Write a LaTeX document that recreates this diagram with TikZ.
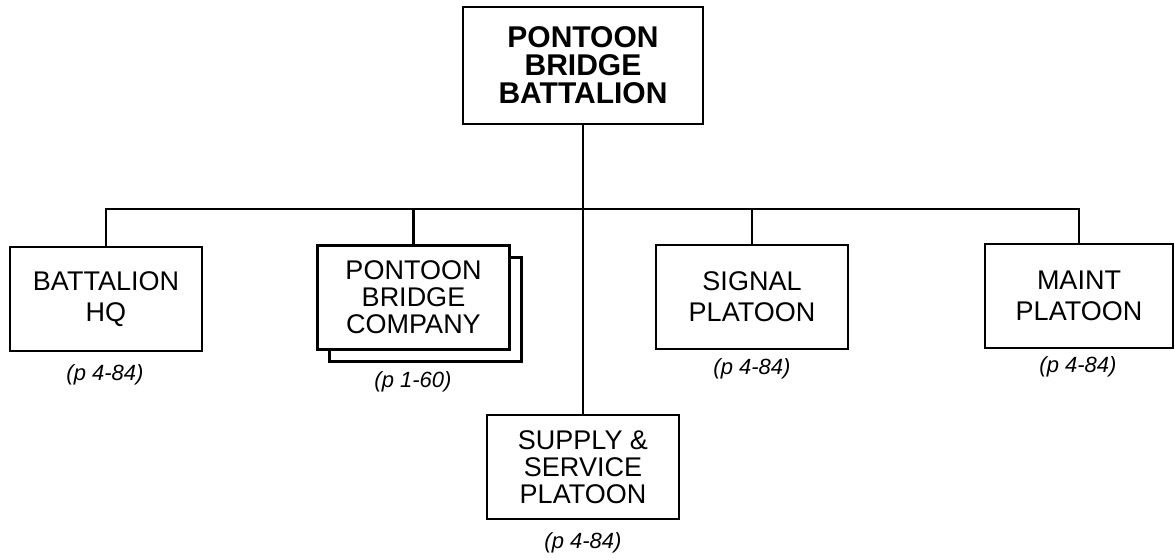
\documentclass[tikz,border=0pt]{standalone}
\usepackage{fontspec}
\setmainfont{Liberation Sans}
\usetikzlibrary{positioning}

\begin{document}
\begin{tikzpicture}[
    x=0.5pt, y=-0.5pt,
    every node/.style={font=\fontsize{13.5pt}{15.5pt}\selectfont},
    unit/.style={draw, line width=1.3pt, minimum width=96pt, minimum height=52pt, align=center, inner sep=0pt, fill=white},
    tight/.style={font=\fontsize{13.5pt}{13.5pt}\selectfont},
    head/.style={unit, minimum width=120pt, minimum height=58.5pt, font=\fontsize{15pt}{14pt}\selectfont\bfseries},
    pageref/.style={font=\fontsize{11pt}{13pt}\selectfont\itshape, inner sep=0pt},
    conn/.style={line width=1.3pt}
]
\useasboundingbox (0,0) rectangle (1175,559);

\node[head] (bat) at (583,65.5) {PONTOON\\BRIDGE\\BATTALION};
\node[unit] (hq) at (106,299) {BATTALION\\HQ};
\node[unit] (coyback) at (425.5,309.5) {};
\node[unit, tight] (coy) at (413.5,297.5) {PONTOON\\BRIDGE\\COMPANY};
\node[unit, tight] (sup) at (583,467) {SUPPLY \&\\SERVICE\\PLATOON};
\node[unit] (sig) at (752,297) {SIGNAL\\PLATOON};
\node[unit, minimum width=94pt] (mnt) at (1079,296) {MAINT\\PLATOON};

\node[pageref] (hqref) at (105,375) {(p 4-84)};
\node[pageref] (coyref) at (413,382) {(p 1-60)};
\node[pageref] (supref) at (583,543) {(p 4-84)};
\node[pageref] (sigref) at (752,369) {(p 4-84)};
\node[pageref] (mntref) at (1078,367) {(p 4-84)};

\coordinate (busl) at (hq.north |- 0,209);
\coordinate (busr) at (mnt.north |- 0,209);

\draw[conn] (bat.south) -- (sup.north);
\draw[conn] (hq.north) -- (busl) -- (busr) -- (mnt.north);
\draw[conn] (coy.north) -- (coy.north |- busl);
\draw[conn] (sig.north) -- (sig.north |- busl);
\end{tikzpicture}
\end{document}
